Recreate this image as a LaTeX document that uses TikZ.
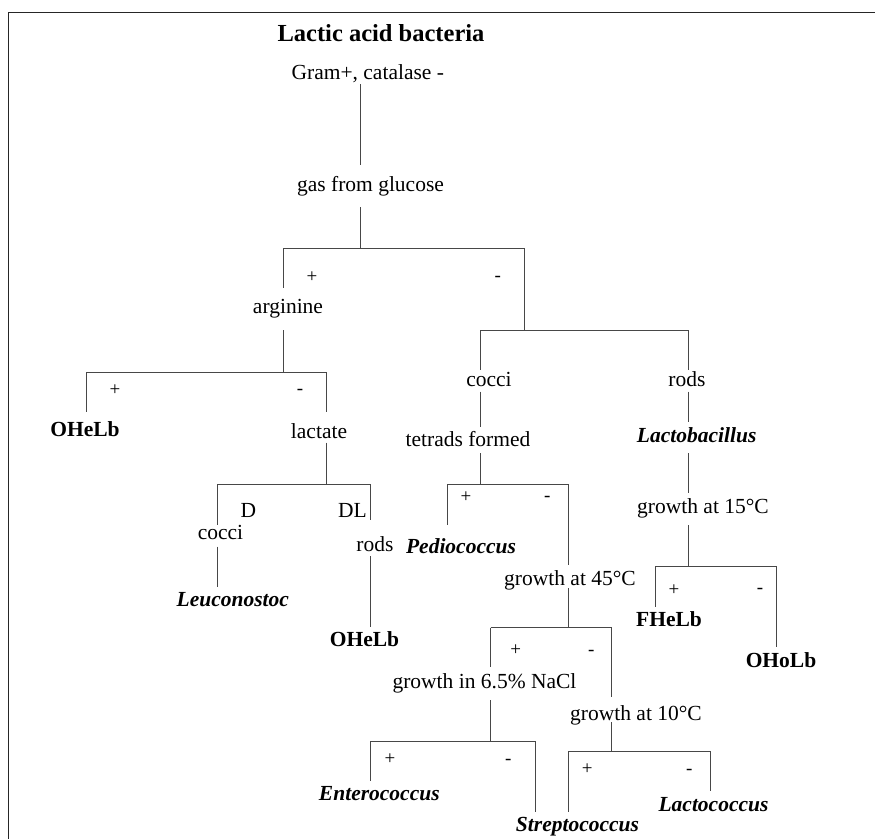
\documentclass[tikz,border=0pt]{standalone}
\usepackage{fontspec}
\setmainfont{Liberation Serif}
\usetikzlibrary{calc}
\begin{document}
\begin{tikzpicture}[x=1pt,y=-1pt,
  txt/.style={inner sep=0pt, anchor=base, font=\fontsize{21.5}{24}\selectfont},
  bld/.style={txt, font=\fontsize{21.5}{24}\selectfont\bfseries},
  gen/.style={txt, font=\fontsize{21.5}{24}\selectfont\bfseries\itshape},
  sgn/.style={inner sep=0pt, anchor=center, font=\fontsize{19}{22}\selectfont},
  link/.style={line width=0.9pt, draw=black!72},
  frame/.style={line width=1.3pt, draw=black!85}]
\useasboundingbox (0,0) rectangle (875,839);
\draw[frame] (875,12.3) -- (8.3,12.3) -- (8.3,839);

% nodes
\node[txt, font=\fontsize{24.5}{28}\selectfont\bfseries] (title) at (381,41.7) {Lactic acid bacteria};
\node[txt] (gram) at (367.8,79) {Gram+, catalase -};
\node[txt] (gas) at (370.5,191) {gas from glucose};
\node[sgn] (p1) at (312,277) {+};
\node[sgn] (m1) at (497.7,279) {-};
\node[txt] (arg) at (288,313) {arginine};
\node[sgn] (p2) at (115,390) {+};
\node[sgn] (m2) at (300,391.7) {-};
\node[bld] (oh1) at (85,436.7) {OHeLb};
\node[txt] (lac) at (319,438.3) {lactate};
\node[txt] (d) at (248.3,517.3) {D};
\node[txt] (dl) at (352.5,517.3) {DL};
\node[txt] (cocA) at (220.5,539.5) {cocci};
\node[txt] (rodA) at (375,551.7) {rods};
\node[gen] (leu) at (232.8,606) {Leuconostoc};
\node[bld] (oh2) at (364.5,646.7) {OHeLb};
\node[txt] (cocB) at (489,386.7) {cocci};
\node[txt] (rodB) at (687,386.7) {rods};
\node[txt] (tet) at (468,446.7) {tetrads formed};
\node[gen] (lb) at (696.7,442.7) {Lactobacillus};
\node[txt] (g15) at (703,513.3) {growth at 15°C};
\node[sgn] (p3) at (466,497.3) {+};
\node[sgn] (m3) at (547.3,499) {-};
\node[gen] (ped) at (461,553) {Pediococcus};
\node[txt] (g45) at (570,585) {growth at 45°C};
\node[sgn] (p4) at (674,590) {+};
\node[sgn] (m4) at (760,591) {-};
\node[bld] (fh) at (669,626.7) {FHeLb};
\node[bld] (oho) at (781,667.3) {OHoLb};
\node[sgn] (p5) at (515.7,650) {+};
\node[sgn] (m5) at (591.3,653) {-};
\node[txt] (nacl) at (484.5,688.3) {growth in 6.5\% NaCl};
\node[txt] (g10) at (636,720) {growth at 10°C};
\node[sgn] (p6) at (390,759.3) {+};
\node[sgn] (m6) at (508.3,761.7) {-};
\node[gen] (ent) at (379.3,800) {Enterococcus};
\node[sgn] (p7) at (587.3,769.3) {+};
\node[sgn] (m7) at (689.3,772) {-};
\node[gen] (str) at (577.5,831.7) {Streptococcus};
\node[gen] (lcc) at (713.5,811.7) {Lactococcus};

% split junctions
\coordinate (s1) at (360,248);   \coordinate (s1l) at (283,248);   \coordinate (s1r) at (524.3,248);
\coordinate (s2) at (524.3,330); \coordinate (s2l) at (480,330);   \coordinate (s2r) at (688.3,330);
\coordinate (s3) at (283,372);   \coordinate (s3l) at (86.7,372);  \coordinate (s3r) at (326.7,372);
\coordinate (s4) at (326.7,484); \coordinate (s4l) at (217.3,484); \coordinate (s4r) at (370.7,484);
\coordinate (s5) at (480,484);   \coordinate (s5l) at (447.3,484); \coordinate (s5r) at (568.3,484);
\coordinate (s6) at (688.3,566); \coordinate (s6l) at (655.7,566); \coordinate (s6r) at (776,566);
\coordinate (s7) at (568.3,627.7); \coordinate (s7l) at (490.7,627.7); \coordinate (s7r) at (611.7,627.7);
\coordinate (s8) at (490.7,741); \coordinate (s8l) at (370.7,741); \coordinate (s8r) at (535,741);
\coordinate (s9) at (611.7,751); \coordinate (s9l) at (568.3,751); \coordinate (s9r) at (710.7,751);

% connectors
\draw[link] ($(gram.base -| s1)+(0,5)$) -- ($(gas.base -| s1)+(0,-26)$);
\draw[link] ($(gas.base -| s1)+(0,16)$) -- (s1) (s1l) -- (s1r)
  (s1l) -- ($(arg.base -| s1l)+(0,-25)$)
  (s1r) -- (s2) (s2l) -- (s2r)
  (s2l) -- ($(cocB.base -| s2l)+(0,-16.7)$)
  (s2r) -- ($(rodB.base -| s2r)+(0,-16.7)$);
\draw[link] ($(arg.base -| s3)+(0,17)$) -- (s3) (s3l) -- (s3r)
  (s3l) -- ($(oh1.base -| s3l)+(0,-25)$)
  (s3r) -- ($(lac.base -| s3r)+(0,-26.6)$);
\draw[link] ($(lac.base -| s4)+(0,4.4)$) -- (s4) (s4l) -- (s4r)
  (s4l) -- ($(cocA.base -| s4l)+(0,-15)$)
  (s4r) -- ($(rodA.base -| s4r)+(0,-31.7)$);
\draw[link] ($(cocA.base -| s4l)+(0,7)$) -- ($(leu.base -| s4l)+(0,-19.3)$);
\draw[link] ($(rodA.base -| s4r)+(0,4.3)$) -- ($(oh2.base -| s4r)+(0,-19.4)$);
\draw[link] ($(cocB.base -| s5)+(0,5)$) -- ($(tet.base -| s5)+(0,-20)$);
\draw[link] ($(tet.base -| s5)+(0,6.6)$) -- (s5) (s5l) -- (s5r)
  (s5l) -- ($(ped.base -| s5l)+(0,-28)$)
  (s5r) -- ($(g45.base -| s5r)+(0,-20)$);
\draw[link] ($(g45.base -| s7)+(0,3)$) -- (s7) (s7l) -- (s7r)
  (s7l) -- ($(nacl.base -| s7l)+(0,-21.6)$)
  (s7r) -- ($(g10.base -| s7r)+(0,-23)$);
\draw[link] ($(nacl.base -| s8)+(0,11.7)$) -- (s8) (s8l) -- (s8r)
  (s8l) -- ($(ent.base -| s8l)+(0,-19.3)$)
  (s8r) -- ($(str.base -| s8r)+(0,-20)$);
\draw[link] ($(g10.base -| s9)+(0,2)$) -- (s9) (s9l) -- (s9r)
  (s9l) -- ($(str.base -| s9l)+(0,-20)$)
  (s9r) -- ($(lcc.base -| s9r)+(0,-21)$);
\draw[link] ($(rodB.base -| s6)+(0,5)$) -- ($(lb.base -| s6)+(0,-21)$);
\draw[link] ($(lb.base -| s6)+(0,10.6)$) -- ($(g15.base -| s6)+(0,-20)$);
\draw[link] ($(g15.base -| s6)+(0,11.7)$) -- (s6) (s6l) -- (s6r)
  (s6l) -- ($(fh.base -| s6l)+(0,-20)$)
  (s6r) -- ($(oho.base -| s6r)+(0,-20)$);
\end{tikzpicture}
\end{document}
